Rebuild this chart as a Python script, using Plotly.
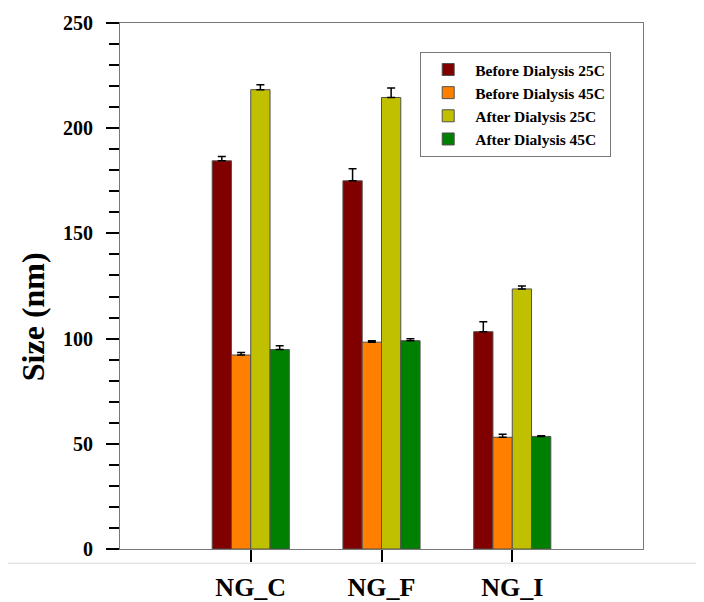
import plotly.graph_objects as go

categories = ["NG_C", "NG_F", "NG_I"]
series_names = ["Before Dialysis 25C", "Before Dialysis 45C", "After Dialysis 25C", "After Dialysis 45C"]
before_25 = [184.5, 175.0, 103.3]
before_25_err = [2.0, 5.7, 4.7]
before_45 = [92.2, 98.3, 53.1]
before_45_err = [1.2, 0.7, 1.4]
after_25 = [218.3, 214.6, 123.6]
after_25_err = [2.4, 4.5, 1.4]
after_45 = [94.8, 99.0, 53.5]
after_45_err = [1.8, 0.9, 0.3]
colors = ["#800000", "#FF8000", "#C0C000", "#008000"]

values = [before_25, before_45, after_25, after_45]
errors = [before_25_err, before_45_err, after_25_err, after_45_err]

font_family = "Liberation Serif, Times New Roman, serif"

fig = go.Figure()
for name, vals, errs, col in zip(series_names, values, errors, colors):
    fig.add_trace(go.Bar(
        x=list(range(len(categories))), y=vals, name=name,
        marker=dict(color=col, line=dict(color="#505050", width=1)),
        error_y=dict(type="data", array=errs, arrayminus=[0]*len(errs), symmetric=False,
                     color="black", thickness=1.5, width=4),
    ))

fig.update_layout(
    width=696, height=594,
    margin=dict(l=112, r=61, t=15, b=53, autoexpand=False),
    paper_bgcolor="white", plot_bgcolor="white",
    barmode="group", bargap=0.41, bargroupgap=0,
    font=dict(family=font_family, color="black"),
    showlegend=True,
    legend=dict(x=0.574, y=0.945, xanchor="left", yanchor="top",
                bordercolor="#777777", borderwidth=1, bgcolor="white",
                font=dict(size=15.5, family=font_family, color="black", weight="bold"),
                tracegroupgap=0, itemwidth=44),
)
fig.update_xaxes(
    range=[-1, 3], tickmode="array", tickvals=[0, 1, 2], ticktext=categories,
    ticks="outside", ticklen=12, tickwidth=1.5, tickcolor="black",
    showline=True, linecolor="#777777", linewidth=1, mirror=True,
    showgrid=False, zeroline=False, automargin=False, ticklabelstandoff=3,
    tickfont=dict(size=26, family=font_family, color="black", weight="bold"),
)
fig.update_yaxes(
    range=[0, 250], tickmode="array", tickvals=[0, 50, 100, 150, 200, 250],
    ticks="outside", ticklen=13, tickwidth=1.5, tickcolor="black",
    minor=dict(ticks="outside", ticklen=10, tickwidth=1.5, tickcolor="black", dtick=10, showgrid=False),
    showline=True, linecolor="#777777", linewidth=1, mirror=True,
    showgrid=False, zeroline=False, ticklabelstandoff=9, automargin=False,
    tickfont=dict(size=20, family=font_family, color="black", weight="bold"),
)
fig.add_annotation(
    text="Size (nm)", textangle=-90, xref="paper", yref="paper",
    x=-0.166, y=0.441, showarrow=False, xanchor="center", yanchor="middle",
    font=dict(size=32, family=font_family, color="black", weight="bold"),
)
fig.add_shape(type="line", xref="paper", yref="paper", x0=-0.3, x1=1.2, y0=-0.027, y1=-0.027,
              line=dict(color="#d8d8d8", width=1))

fig.write_html("out.html")
